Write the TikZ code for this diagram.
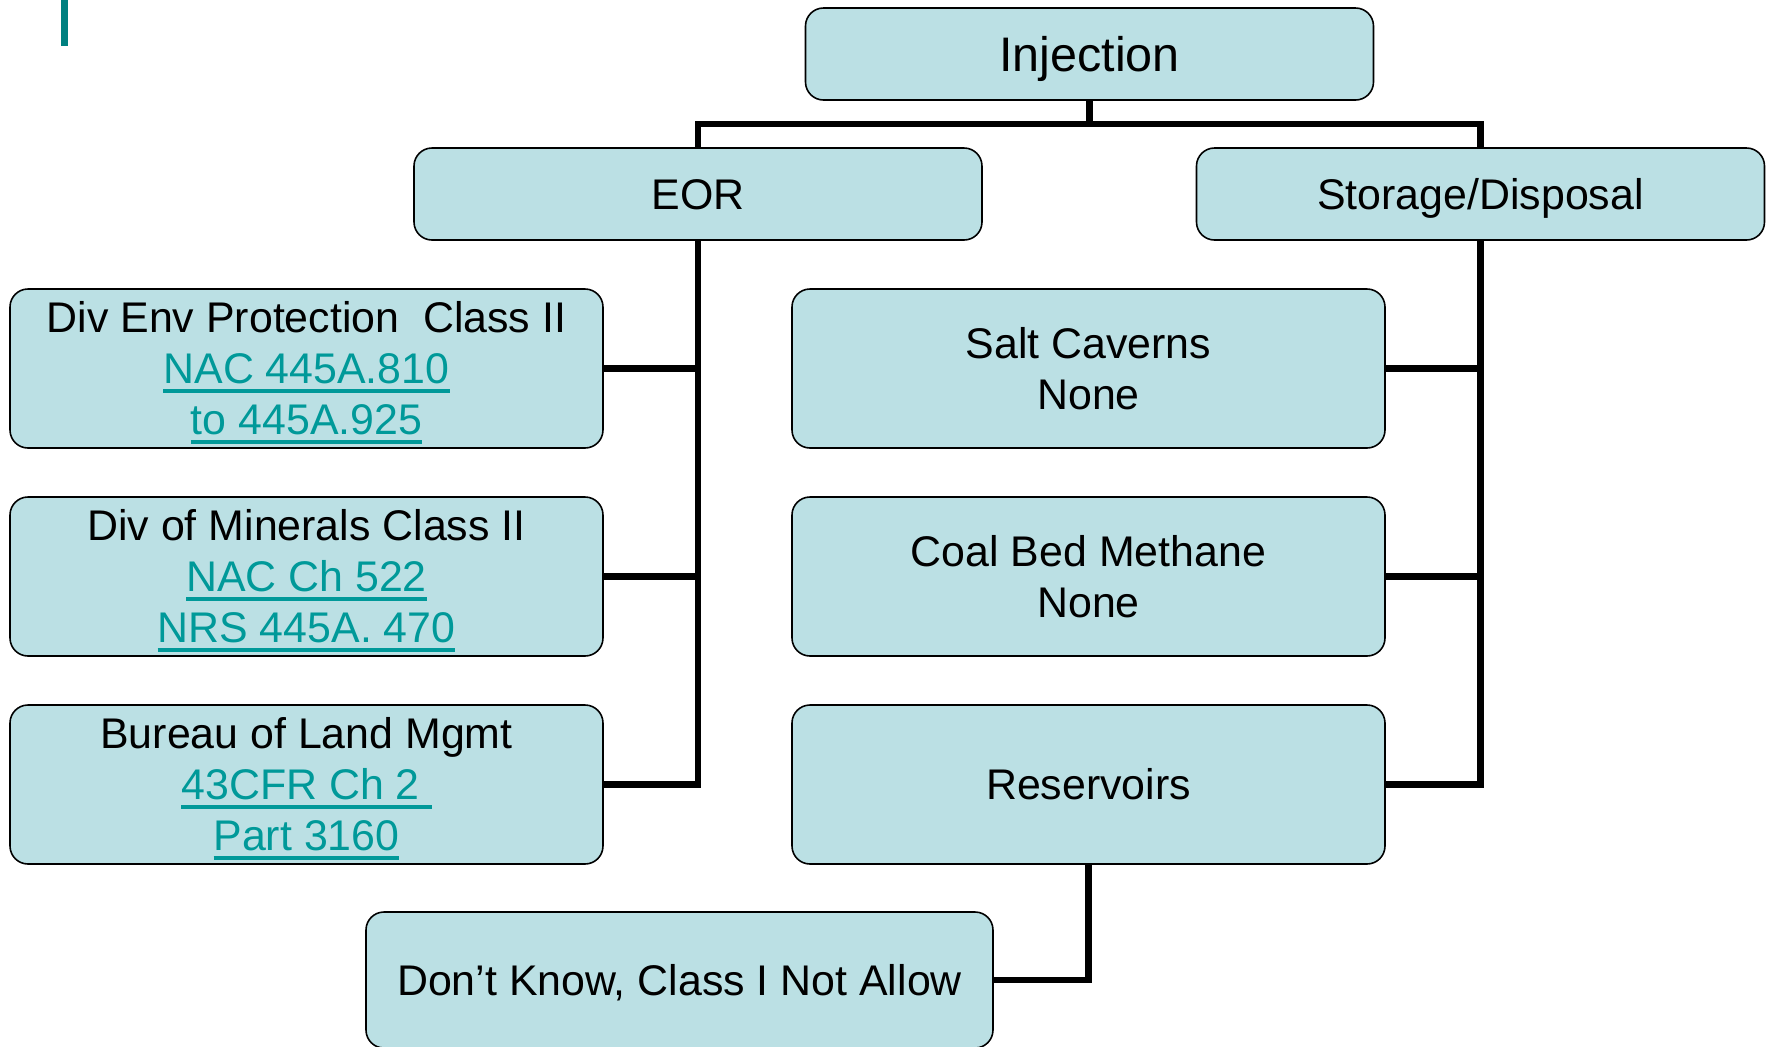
\documentclass[tikz,border=0pt]{standalone}
\usepackage{fontspec}
\setmainfont{Liberation Sans}
\definecolor{boxfill}{RGB}{187,224,228}
\definecolor{linkteal}{RGB}{0,153,153}
\definecolor{barteal}{RGB}{0,128,128}
% teal link text with a thick underline that takes no room
\newcommand\lnk[1]{\textcolor{linkteal}{\setbox0\hbox{#1}%
  \rlap{\smash{\rule[-0.9mm]{\wd0}{0.4mm}}}\box0}}

\begin{document}
\begin{tikzpicture}
    [
    x=0.1mm, y=-0.1mm,
    every node/.style={draw=black,line width=0.45pt,fill=boxfill,rounded corners=1.8mm,
      align=center,inner sep=0pt,font=\fontsize{12.2pt}{14.5pt}\selectfont},
    oneline/.style={text height=8.7pt,text depth=0pt},
    top/.style={oneline,minimum width=56.8mm,minimum height=9.2mm},
    leaf/.style={minimum width=59.3mm,minimum height=15.9mm},
    link/.style={line width=1.8pt},
    ]
    \useasboundingbox (0,0) rectangle (1770,1046);
    \fill[barteal] (61,0) rectangle (68,46);

    \node[top,font=\fontsize{13.8pt}{16pt}\selectfont,text height=9.9pt] (inj) at (1089.5,54) {Injection};
    \node[top] (eor) at (698,194) {EOR};
    \node[top] (stor) at (1480.5,194) {Storage/Disposal};

    \node[leaf] (dep) at (306.5,368.5) {Div Env Protection\ \ Class II\\
      \lnk{NAC 445A.810}\\ \lnk{to 445A.925}};
    \node[leaf] (dom) at (306.5,576.5) {Div of Minerals Class II\\
      \lnk{NAC Ch 522}\\ \lnk{NRS 445A. 470}};
    \node[leaf] (blm) at (306.5,784.5) {Bureau of Land Mgmt\\
      \lnk{43CFR Ch 2\ }\\ \lnk{Part 3160}};

    \node[leaf] (salt) at (1088.5,368.5) {Salt Caverns\\ None};
    \node[leaf] (cbm) at (1088.5,576.5) {Coal Bed Methane\\ None};
    \node[leaf,oneline] (res) at (1088.5,784.5) {Reservoirs};

    \node[oneline,minimum width=62.7mm,minimum height=13.6mm] (dk) at (679.5,980)
      {Don’t Know, Class I Not Allow};

    % connectors
    \coordinate (split) at (1089.5,124);
    \draw[link] (inj.south) -- (split);
    \draw[link] (eor.north) |- (split) -| (stor.north);

    \draw[link] (eor.south) |- (blm.east);
    \draw[link] (dep.east) -- (dep.east -| eor.south);
    \draw[link] (dom.east) -- (dom.east -| eor.south);

    \draw[link] (stor.south) |- (res.east);
    \draw[link] (salt.east) -- (salt.east -| stor.south);
    \draw[link] (cbm.east) -- (cbm.east -| stor.south);

    \draw[link] (res.south) |- (dk.east);
\end{tikzpicture}
\end{document}
